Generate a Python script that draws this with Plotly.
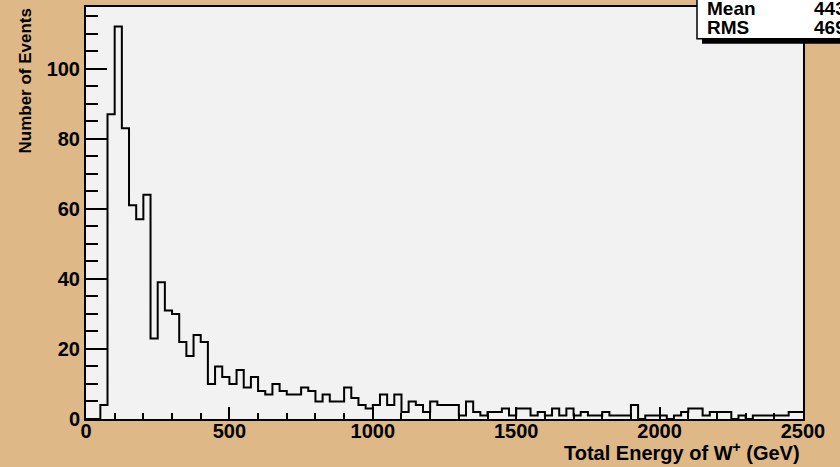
import numpy as np
import plotly.graph_objects as go

# Histogram of W+ total energy: 100 bins of 25 GeV from 0 to 2500 GeV
bin_low = 0
bin_width = 25
counts = [
    # 0 - 500 GeV
    0, 0, 4, 87, 112, 83, 61, 57, 64, 23, 39, 31, 30, 22, 18, 24, 22, 10, 15, 12,
    # 500 - 1000 GeV
    10, 14, 9, 12, 8, 7, 10, 8, 7, 7, 9, 8, 5, 7, 5, 5, 9, 6, 4, 3,
    # 1000 - 1500 GeV
    4, 7, 4, 7, 2, 5, 4, 2, 5, 4, 4, 4, 1, 5, 2, 1, 2, 2, 3, 1,
    # 1500 - 2000 GeV
    3, 3, 1, 2, 1, 3, 1, 3, 1, 2, 1, 1, 2, 1, 1, 1, 4, 0, 1, 1,
    # 2000 - 2500 GeV
    1, 0, 1, 2, 3, 3, 1, 2, 2, 2, 0, 1, 0, 1, 1, 1, 1, 1, 2, 2,
]
x_tick_vals = [0, 500, 1000, 1500, 2000, 2500]
y_tick_vals = [0, 20, 40, 60, 80, 100]
stat_names = ["Mean", "RMS"]
stat_values = ["443.1", "469.4"]

edges = bin_low + bin_width * np.arange(len(counts) + 1)
x_max = edges[-1]
y_max = max(counts) * 1.05

# step outline: each bin top drawn as a horizontal segment
step_x = list(edges)
step_y = list(counts) + [counts[-1]]

PAGE_BG = "#DEB887"
PLOT_BG = "#F2F2F2"
FONT = "Liberation Sans"

W, H = 840, 467
ML, MR, MT, MB = 86, 37, 5, 48
PW, PH = W - ML - MR, H - MT - MB


def px(xp):
    return (xp - ML) / PW


def py(yp):
    return (H - MB - yp) / PH


fig = go.Figure()
fig.add_trace(go.Scatter(
    x=step_x, y=step_y, mode="lines",
    line=dict(color="black", width=2, shape="hv"),
    hoverinfo="skip", showlegend=False,
))

tick_font = dict(family=FONT, size=20, color="black", weight="bold")

fig.update_xaxes(
    range=[0, x_max], tickvals=x_tick_vals, ticks="inside", ticklen=12,
    tickwidth=1.5, tickcolor="black", showline=True, linecolor="black",
    linewidth=2, mirror=True, showgrid=False, zeroline=False,
    tickfont=tick_font, ticklabelstandoff=-7,
    minor=dict(dtick=100, ticks="inside", ticklen=6, tickwidth=1.5, tickcolor="black", showgrid=False),
)
fig.update_yaxes(
    range=[0, y_max], tickvals=y_tick_vals, ticks="inside", ticklen=21,
    tickwidth=1.5, tickcolor="black", showline=True, linecolor="black",
    linewidth=2, mirror=True, showgrid=False, zeroline=False,
    tickfont=tick_font,
    minor=dict(dtick=5, ticks="inside", ticklen=12, tickwidth=1.5, tickcolor="black", showgrid=False),
)

# statistics box in the top-right corner, with a drop shadow
shapes = [
    dict(type="rect", xref="paper", yref="paper",
         x0=px(702), x1=px(870), y0=py(42), y1=py(-10),
         fillcolor="black", line=dict(width=0), layer="above"),
    dict(type="rect", xref="paper", yref="paper",
         x0=px(697), x1=px(865), y0=py(37), y1=py(-10),
         fillcolor="white", line=dict(color="black", width=1.5), layer="above"),
]

stat_font = dict(family=FONT, size=19, color="black", weight="bold")
annotations = []
for i, (name, val) in enumerate(zip(stat_names, stat_values)):
    yc = 7 + 19 * i
    annotations.append(dict(xref="paper", yref="paper", x=px(705), y=py(yc),
                            xanchor="left", yanchor="middle", text=name,
                            showarrow=False, font=stat_font))
    annotations.append(dict(xref="paper", yref="paper", x=px(812), y=py(yc),
                            xanchor="left", yanchor="middle", text=val,
                            showarrow=False, font=stat_font))

title_font = dict(family=FONT, size=20, color="black", weight="bold")
annotations.append(dict(xref="paper", yref="paper", x=px(802), y=py(452),
                        xanchor="right", yanchor="middle",
                        text="Total Energy of W<sup>+</sup> (GeV)",
                        showarrow=False, font=title_font))
annotations.append(dict(xref="paper", yref="paper", x=px(25), y=py(5),
                        xanchor="center", yanchor="top", textangle=-90,
                        text="Number of Events", showarrow=False,
                        font=dict(family=FONT, size=17, color="black", weight="bold")))

fig.update_layout(
    width=W, height=H,
    margin=dict(l=ML, r=MR, t=MT, b=MB),
    paper_bgcolor=PAGE_BG, plot_bgcolor=PLOT_BG,
    shapes=shapes, annotations=annotations,
    showlegend=False,
)

fig.write_html("out.html", config={"displayModeBar": False})
